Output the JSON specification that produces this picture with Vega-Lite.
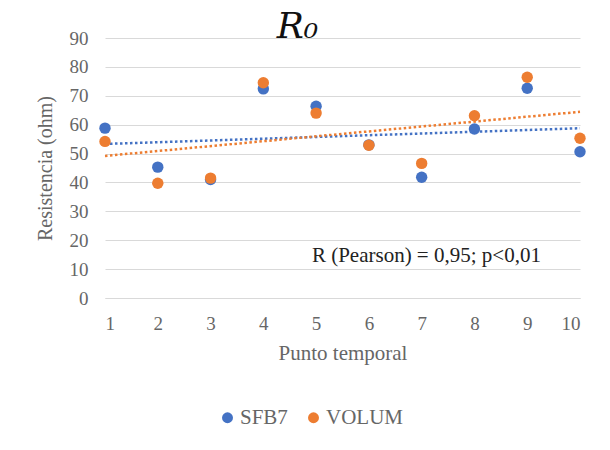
{
  "$schema": "https://vega.github.io/schema/vega-lite/v6.json",
  "autosize": "none",
  "width": 475,
  "height": 260,
  "padding": {"left": 105, "top": 38, "right": 30, "bottom": 152},
  "background": "white",
  "config": {
    "view": {"stroke": null},
    "font": "Liberation Serif"
  },
  "title": {
    "text": "R₀",
    "font": "DejaVu Serif",
    "fontStyle": "italic",
    "fontWeight": "normal",
    "fontSize": 36,
    "color": "#111111",
    "anchor": "middle",
    "dx": -45,
    "offset": -17
  },
  "data": {
    "values": [
      {"t": 1, "serie": "SFB7", "v": 58.8},
      {"t": 2, "serie": "SFB7", "v": 45.3},
      {"t": 3, "serie": "SFB7", "v": 41.0},
      {"t": 4, "serie": "SFB7", "v": 72.4},
      {"t": 5, "serie": "SFB7", "v": 66.4},
      {"t": 6, "serie": "SFB7", "v": 53.0},
      {"t": 7, "serie": "SFB7", "v": 41.8},
      {"t": 8, "serie": "SFB7", "v": 58.5},
      {"t": 9, "serie": "SFB7", "v": 72.6},
      {"t": 10, "serie": "SFB7", "v": 50.6},
      {"t": 1, "serie": "VOLUM", "v": 54.2},
      {"t": 2, "serie": "VOLUM", "v": 39.7},
      {"t": 3, "serie": "VOLUM", "v": 41.5},
      {"t": 4, "serie": "VOLUM", "v": 74.5},
      {"t": 5, "serie": "VOLUM", "v": 64.0},
      {"t": 6, "serie": "VOLUM", "v": 52.9},
      {"t": 7, "serie": "VOLUM", "v": 46.6},
      {"t": 8, "serie": "VOLUM", "v": 63.1},
      {"t": 9, "serie": "VOLUM", "v": 76.4},
      {"t": 10, "serie": "VOLUM", "v": 55.3}
    ]
  },
  "encoding": {
    "x": {
      "field": "t",
      "type": "quantitative",
      "scale": {"domain": [1, 10], "nice": false, "zero": false},
      "axis": {
        "title": "Punto temporal",
        "values": [1, 2, 3, 4, 5, 6, 7, 8, 9, 10],
        "grid": false,
        "ticks": false,
        "domainColor": "#d9d9d9",
        "labelFont": "Liberation Serif",
        "labelFontSize": 19,
        "labelColor": "#666666",
        "labelPadding": 16,
        "titleFont": "Liberation Serif",
        "titleFontSize": 21,
        "titleFontWeight": "normal",
        "titleColor": "#666666",
        "titlePadding": 9
      }
    },
    "y": {
      "field": "v",
      "type": "quantitative",
      "scale": {"domain": [0, 90], "nice": false},
      "axis": {
        "title": "Resistencia (ohm)",
        "values": [0, 10, 20, 30, 40, 50, 60, 70, 80, 90],
        "grid": true,
        "gridColor": "#d9d9d9",
        "gridWidth": 1,
        "domain": false,
        "ticks": false,
        "labelFont": "Liberation Serif",
        "labelFontSize": 19,
        "labelColor": "#666666",
        "labelPadding": 17,
        "titleFont": "Liberation Serif",
        "titleFontSize": 20,
        "titleFontWeight": "normal",
        "titleColor": "#666666",
        "titlePadding": 14
      }
    },
    "color": {
      "field": "serie",
      "type": "nominal",
      "scale": {"domain": ["SFB7", "VOLUM"], "range": ["#4472C4", "#ED7D31"]},
      "legend": {
        "title": null,
        "orient": "none",
        "direction": "horizontal",
        "legendX": 112,
        "legendY": 369,
        "symbolType": "circle",
        "symbolSize": 120,
        "symbolStrokeWidth": 0,
        "symbolOpacity": 1,
        "labelFont": "Liberation Serif",
        "labelFontSize": 21,
        "labelColor": "#666666",
        "labelOffset": 2,
        "columnPadding": 15
      }
    }
  },
  "layer": [
    {
      "transform": [
        {"regression": "v", "on": "t", "groupby": ["serie"], "extent": [1, 10]}
      ],
      "mark": {"type": "line", "strokeDash": [2.5, 2.5], "strokeWidth": 2.5},
      "encoding": {}
    },
    {
      "mark": {"type": "point", "filled": true, "shape": "circle", "size": 130, "opacity": 1}
    },
    {
      "data": {"values": [{"t": 4.92, "v": 14.6, "label": "R (Pearson) = 0,95; p<0,01"}]},
      "mark": {"type": "text", "align": "left", "baseline": "middle", "font": "Liberation Serif", "fontSize": 21, "color": "#222222"},
      "encoding": {
        "x": {"field": "t", "type": "quantitative"},
        "y": {"field": "v", "type": "quantitative"},
        "text": {"field": "label"},
        "color": {"value": "#222222"}
      }
    }
  ]
}
